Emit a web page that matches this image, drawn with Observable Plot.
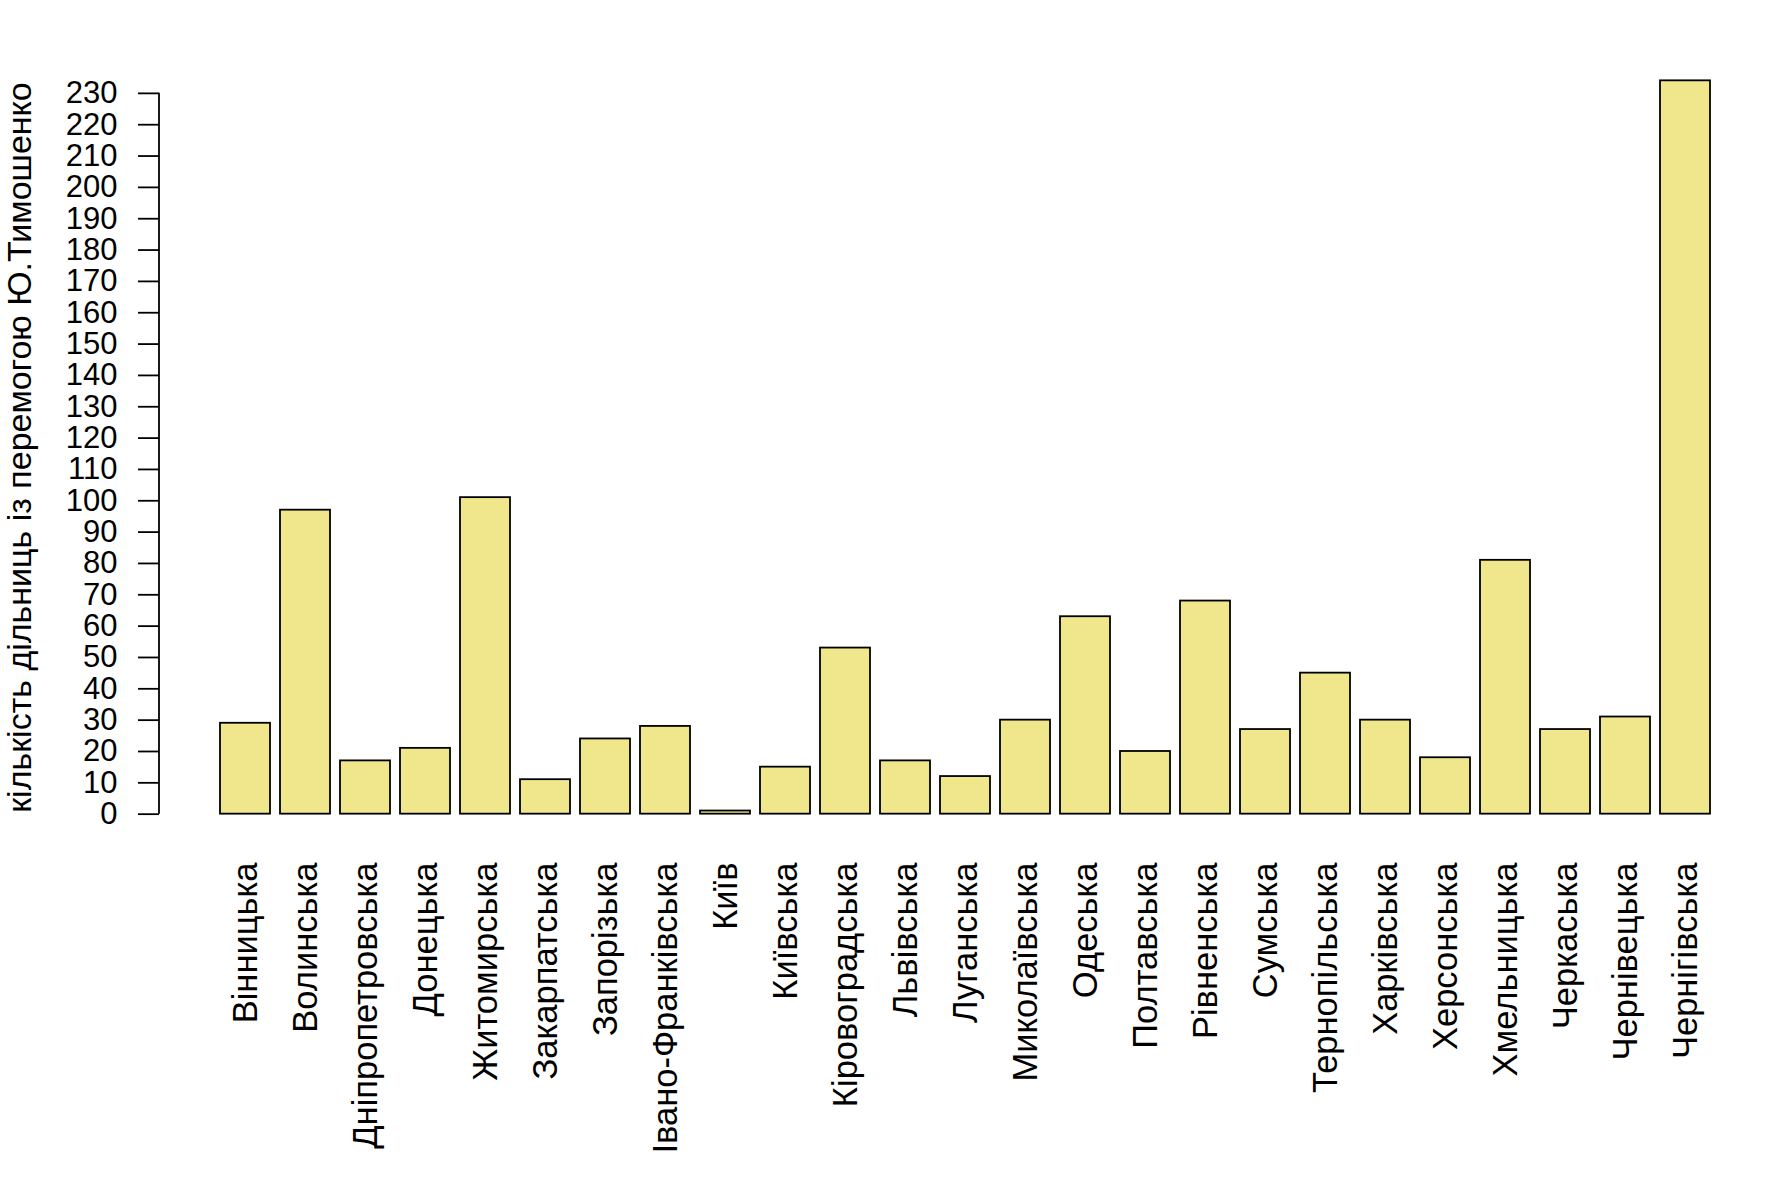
<!DOCTYPE html>
<html><head><meta charset="utf-8">
<script src="https://cdn.jsdelivr.net/npm/d3@7"></script>
<script src="https://cdn.jsdelivr.net/npm/@observablehq/plot@0.6"></script>
<style>body{margin:0;background:#fff}</style>
</head><body><div id="chart"></div>
<script>
const regions = ["Вінницька","Волинська","Дніпропетровська","Донецька","Житомирська","Закарпатська","Запорізька","Івано-Франківська","Київ","Київська","Кіровоградська","Львівська","Луганська","Миколаївська","Одеська","Полтавська","Рівненська","Сумська","Тернопільська","Харківська","Херсонська","Хмельницька","Черкаська","Чернівецька","Чернігівська"];
const counts = [29,97,17,21,101,11,24,28,1,15,53,17,12,30,63,20,68,27,45,30,18,81,27,31,234];
const yTicks = d3.range(0, 231, 10);
const yTitle = "кількість дільниць із перемогою Ю.Тимошенко";

const data = regions.map((r, i) => ({region: r, count: counts[i]}));
const W = 1771, H = 1181;
const font = "'Liberation Sans', Arial, Helvetica, sans-serif";

const chart = Plot.plot({
  width: W, height: H,
  marginLeft: 159, marginRight: 0, marginTop: 51, marginBottom: 338,
  style: {fontFamily: font, background: "white", color: "black"},
  x: {domain: regions, paddingInner: 1/6, paddingOuter: 0.9933},
  y: {domain: [-9.36, 243.36]},
  marks: [
    Plot.barY(data, {x: "region", y: "count", fill: "#F0E68C", stroke: "black", strokeWidth: 1.8}),
    Plot.axisX({tickSize: 0, tickPadding: 19, tickRotate: -90, fontSize: 34.5, label: null}),
    Plot.axisY({ticks: yTicks, tickSize: 21, tickPadding: 21, fontSize: 31, strokeWidth: 1.8, label: null}),
    Plot.axisY({ticks: [], tickSize: 0, fontSize: 34, label: yTitle, labelAnchor: "center", labelOffset: 153, labelArrow: "none"})
  ]
});
document.getElementById("chart").appendChild(chart);

// y axis line from first to last tick, through the plot's own scales
const ys = chart.scale("y"), xs = chart.scale("x");
d3.select(chart).append("line")
  .attr("x1", xs.range[0]).attr("x2", xs.range[0])
  .attr("y1", ys.apply(yTicks[0])).attr("y2", ys.apply(yTicks[yTicks.length - 1]))
  .attr("stroke", "black").attr("stroke-width", 1.8);
</script>
</body></html>
